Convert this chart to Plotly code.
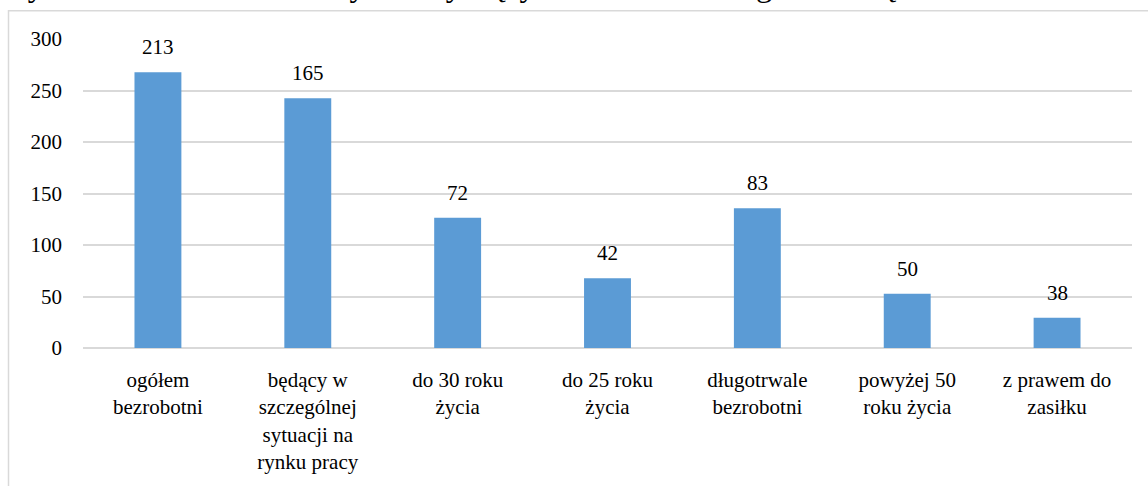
import plotly.graph_objects as go

categories = [
    "ogółem<br>bezrobotni",
    "będący w<br>szczególnej<br>sytuacji na<br>rynku pracy",
    "do 30 roku<br>życia",
    "do 25 roku<br>życia",
    "długotrwale<br>bezrobotni",
    "powyżej 50<br>roku życia",
    "z prawem do<br>zasiłku",
]
bar_heights = [267.7, 242.5, 126.4, 67.6, 135.6, 52.7, 29.3]
label_values = ["213", "165", "72", "42", "83", "50", "38"]
y_ticks = [0, 50, 100, 150, 200, 250, 300]
title_text = "Wykres 2. Zestawienie danych dotyczących bezrobocia w gminie Piątnica"

W, H = 1148, 486
ml, mr, mt, mb = 83, 16, 39, 134
pw, ph = W - ml - mr, H - mt - mb

def px_x(p):
    return (p - ml) / pw

def px_y(p):
    return (H - mb - p) / ph

FONT = "Liberation Serif"

fig = go.Figure()
fig.add_trace(go.Bar(
    x=categories, y=bar_heights,
    marker=dict(color="#5b9bd5", line=dict(width=0)),
    width=0.313,
    hoverinfo="skip",
))

for c, v, t in zip(categories, bar_heights, label_values):
    fig.add_annotation(x=c, y=v, text=t, xref="x", yref="y",
                       showarrow=False, yanchor="bottom", yshift=11,
                       font=dict(family=FONT, size=21, color="#000000"))

fig.add_annotation(x=px_x(-3), y=px_y(2), xref="paper", yref="paper",
                   text=title_text, showarrow=False,
                   xanchor="left", yanchor="bottom", yshift=-3,
                   font=dict(family=FONT, size=32.4, color="#000000"))

fig.add_shape(type="rect", xref="paper", yref="paper",
              x0=px_x(8.5), x1=px_x(1160), y0=px_y(500), y1=px_y(10.5),
              line=dict(color="#d9d9d9", width=1.5), fillcolor="rgba(0,0,0,0)",
              layer="below")

fig.update_layout(
    width=W, height=H,
    margin=dict(l=ml, r=mr, t=mt, b=mb, pad=0),
    paper_bgcolor="white", plot_bgcolor="white",
    showlegend=False,
    font=dict(family=FONT, size=21, color="#000000"),
    xaxis=dict(showgrid=False, showline=False, ticks="", zeroline=False,
               tickfont=dict(family=FONT, size=21, color="#000000"),
               ticklabelstandoff=17),
    yaxis=dict(range=[0, 300], tickvals=y_ticks, showgrid=True,
               gridcolor="#d9d9d9", gridwidth=1.5, zeroline=True,
               zerolinecolor="#d9d9d9", zerolinewidth=1.5,
               showline=False, ticks="",
               tickfont=dict(family=FONT, size=21, color="#000000"),
               ticklabelstandoff=20),
)

fig.write_html("out.html", config={"displayModeBar": False},
               post_script="document.body.style.margin='0';document.body.style.overflow='hidden';")
